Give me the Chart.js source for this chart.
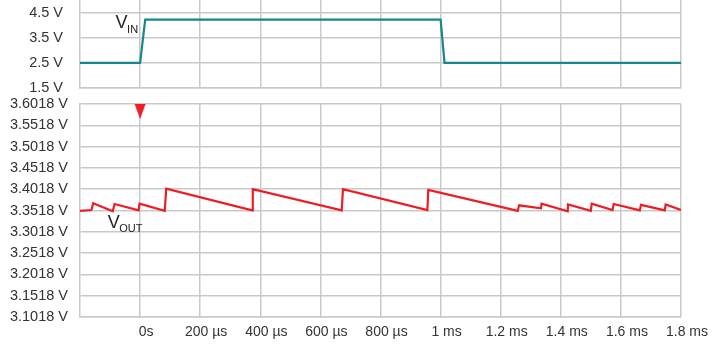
<!DOCTYPE html>
<html>
<head>
<meta charset="utf-8">
<script src="https://cdn.jsdelivr.net/npm/chart.js@4/dist/chart.umd.min.js"></script>
<style>
  html, body { margin: 0; padding: 0; background: #ffffff; }
  #wrap { position: relative; width: 712px; height: 347px; }
  #vinChart { position: absolute; left: 0; top: 0; }
  #voutChart { position: absolute; left: 0; top: 96px; }
</style>
</head>
<body>
<div id="wrap">
  <canvas id="vinChart" width="712" height="96"></canvas>
  <canvas id="voutChart" width="712" height="251"></canvas>
</div>
<script>
// Time base in microseconds
const timeTicks  = [0, 200, 400, 600, 800, 1000, 1200, 1400, 1600, 1800];
const timeLabels = ['0s', '200 µs', '400 µs', '600 µs', '800 µs', '1 ms', '1.2 ms', '1.4 ms', '1.6 ms', '1.8 ms'];

// Input voltage step
const vinTime  = [-200, 0, 17, 1000, 1013, 1800];
const vinVolts = [2.5, 2.5, 4.22, 4.22, 2.5, 2.5];
const vinTicks = [1.5, 2.5, 3.5, 4.5];

// Output voltage ripple
const voutTime  = [-200, -162, -156, -91, -85, -5, -2, 82, 87, 373, 375, 671, 675, 956, 959,
                   1257, 1261, 1334, 1336, 1423, 1424, 1500, 1503, 1572, 1576, 1663, 1667, 1746, 1749, 1800];
const voutVolts = [3.351, 3.353, 3.369, 3.350, 3.367, 3.352, 3.368, 3.351, 3.403, 3.352, 3.402, 3.352, 3.402, 3.353, 3.400,
                   3.351, 3.364, 3.357, 3.368, 3.350, 3.366, 3.351, 3.368, 3.353, 3.367, 3.352, 3.365, 3.352, 3.366, 3.353];
const voutTicks = [3.1018, 3.1518, 3.2018, 3.2518, 3.3018, 3.3518, 3.4018, 3.4518, 3.5018, 3.5518, 3.6018];

// Trigger marker at t = 0
const triggerTime = [0];

const GRID = '#c9c9c9';
const TEXT = '#333333';
const TEAL = '#16878b';
const RED  = '#ee1c25';
const FONT = 'Liberation Sans, Arial, sans-serif';

Chart.defaults.font.family = FONT;

function pairs(xs, ys) { return xs.map((x, i) => ({ x: x, y: ys[i] })); }

// Downward triangle image, drawn in the lower half so it hangs from its anchor point
function triangleMarker() {
  const c = document.createElement('canvas');
  c.width = 12; c.height = 32;
  const g = c.getContext('2d');
  g.fillStyle = RED;
  g.beginPath();
  g.moveTo(0.5, 16);
  g.lineTo(11.5, 16);
  g.lineTo(6, 31);
  g.closePath();
  g.fill();
  return c;
}

// Signal name with subscript, anchored in data coordinates
function signalLabel(id, main, sub, t, v) {
  return {
    id: id,
    afterDatasetsDraw(chart) {
      const ctx = chart.ctx;
      const x = chart.scales.x.getPixelForValue(t);
      const y = chart.scales.y.getPixelForValue(v);
      ctx.save();
      ctx.fillStyle = '#222222';
      ctx.textBaseline = 'alphabetic';
      ctx.textAlign = 'left';
      ctx.font = '18px ' + FONT;
      ctx.fillText(main, x, y);
      const w = ctx.measureText(main).width;
      ctx.font = '11px ' + FONT;
      ctx.fillText(sub, x + w - 0.5, y + 4.5);
      ctx.restore();
    }
  };
}

function timeAxis(showLabels, height) {
  return {
    type: 'linear',
    min: -200,
    max: 1800,
    afterBuildTicks: s => { s.ticks = timeTicks.map(v => ({ value: v })); },
    afterFit: s => { s.height = height; s.paddingLeft = 0; s.paddingRight = 0; },
    grid: { color: GRID, lineWidth: 1.5, drawTicks: false },
    border: { color: GRID, width: 1.5 },
    ticks: {
      display: showLabels,
      color: TEXT,
      font: { size: 14 },
      padding: 7,
      labelOffset: 6,
      maxRotation: 0,
      autoSkip: false,
      callback: (value, index) => timeLabels[index]
    }
  };
}

function voltAxis(min, max, ticks, digits, pad) {
  return {
    type: 'linear',
    min: min,
    max: max,
    afterBuildTicks: s => { s.ticks = ticks.map(v => ({ value: v })); },
    afterFit: s => { s.width = 80; s.paddingTop = 0; s.paddingBottom = 0; },
    grid: { color: GRID, lineWidth: 1.5, drawTicks: false },
    border: { color: GRID, width: 1.5 },
    ticks: {
      color: TEXT,
      font: { size: 14.5 },
      padding: pad,
      autoSkip: false,
      callback: value => value.toFixed(digits) + ' V'
    }
  };
}

const common = {
  responsive: false,
  animation: false,
  devicePixelRatio: 1,
  plugins: { legend: { display: false }, tooltip: { enabled: false } },
  elements: { point: { radius: 0 }, line: { tension: 0 } }
};

new Chart(document.getElementById('vinChart'), {
  type: 'line',
  data: {
    datasets: [{
      data: pairs(vinTime, vinVolts),
      borderColor: TEAL,
      borderWidth: 2.2,
      pointRadius: 0
    }]
  },
  options: Object.assign({}, common, {
    layout: { padding: { left: 0, right: 31, top: 0, bottom: 0 } },
    scales: {
      x: timeAxis(false, 8),
      y: voltAxis(1.5, 5.0, vinTicks, 1, 17)
    }
  }),
  plugins: [signalLabel('vinName', 'V', 'IN', -81.5, 3.87)]
});

new Chart(document.getElementById('voutChart'), {
  type: 'line',
  data: {
    datasets: [{
      data: pairs(voutTime, voutVolts),
      borderColor: RED,
      borderWidth: 2.2,
      pointRadius: 0
    }, {
      data: triggerTime.map(t => ({ x: t, y: 3.6018 })),
      showLine: false,
      pointStyle: triangleMarker(),
      pointRadius: 6,
      borderColor: RED,
      backgroundColor: RED
    }]
  },
  options: Object.assign({}, common, {
    layout: { padding: { left: 0, right: 31, top: 8, bottom: 0 } },
    scales: {
      x: timeAxis(true, 30),
      y: voltAxis(3.1018, 3.6018, voutTicks, 4, 12)
    }
  }),
  plugins: [signalLabel('voutName', 'V', 'OUT', -108, 3.3114)]
});
</script>
</body>
</html>
